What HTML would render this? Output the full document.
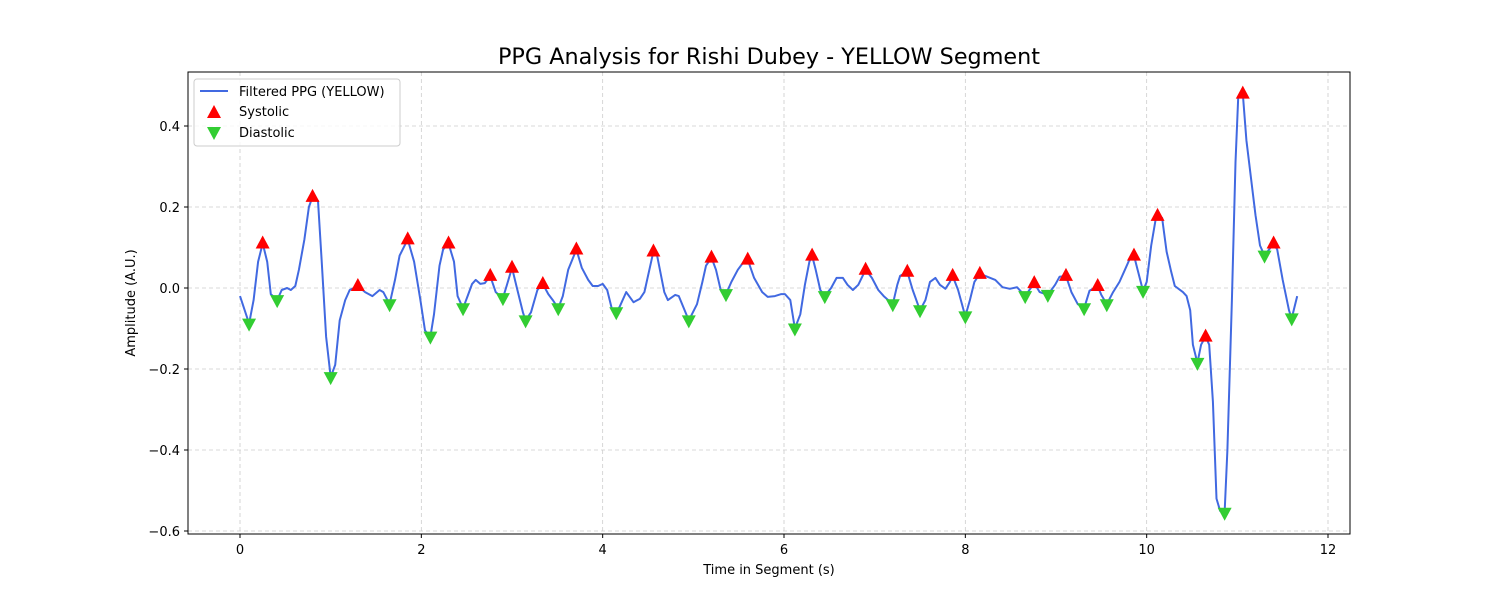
<!DOCTYPE html>
<html><head><meta charset="utf-8"><style>
body{margin:0;background:#fff;font-family:"Liberation Sans","DejaVu Sans",sans-serif}
svg text{font-family:"DejaVu Sans","Liberation Sans",sans-serif}
</style></head><body>
<svg id="chart" width="1500" height="600" viewBox="0 0 1500 600" xmlns="http://www.w3.org/2000/svg">
<rect width="1500" height="600" fill="#fff"/>
<text x="769" y="64" font-size="22.3" text-anchor="middle" fill="#000">PPG Analysis for Rishi Dubey - YELLOW Segment</text>
<g id="grid"></g>
<g id="ticks"></g>
<g id="plot"></g>
<rect x="188" y="72" width="1162" height="462" fill="none" stroke="#000" stroke-width="1"/>
<text x="769" y="574" font-size="13" text-anchor="middle">Time in Segment (s)</text>
<text transform="translate(135,303) rotate(-90)" font-size="13" text-anchor="middle">Amplitude (A.U.)</text>
<g>
<rect x="194" y="79" width="206" height="67" rx="3" fill="#fff" fill-opacity="0.8" stroke="#ccc"/>
<line x1="200" y1="91" x2="228" y2="91" stroke="#4169e1" stroke-width="2"/>
<text x="239" y="96" font-size="13">Filtered PPG (YELLOW)</text>
<polygon points="214,105 221,118 207,118" fill="red"/>
<text x="239" y="116" font-size="13">Systolic</text>
<polygon points="207,127 221,127 214,140" fill="#32cd32"/>
<text x="239" y="137" font-size="13">Diastolic</text>
</g>
</svg>
<script>
const lineT=[0,0.1,0.15,0.2,0.25,0.3,0.34,0.41,0.46,0.52,0.56,0.61,0.65,0.71,0.76,0.8,0.86,0.9,0.95,1.0,1.05,1.1,1.16,1.21,1.3,1.38,1.46,1.54,1.58,1.65,1.71,1.76,1.85,1.92,1.99,2.04,2.1,2.14,2.2,2.24,2.3,2.36,2.4,2.46,2.51,2.56,2.6,2.65,2.7,2.76,2.82,2.9,2.94,3.0,3.06,3.12,3.15,3.21,3.28,3.34,3.4,3.45,3.51,3.56,3.62,3.71,3.77,3.84,3.89,3.95,4.0,4.05,4.1,4.15,4.19,4.26,4.34,4.41,4.46,4.52,4.56,4.6,4.68,4.72,4.8,4.84,4.95,5.04,5.1,5.14,5.2,5.25,5.3,5.36,5.42,5.49,5.55,5.6,5.67,5.76,5.82,5.9,5.97,6.01,6.07,6.12,6.18,6.23,6.28,6.31,6.35,6.4,6.45,6.52,6.58,6.65,6.7,6.76,6.82,6.9,6.97,7.04,7.1,7.2,7.25,7.28,7.36,7.42,7.5,7.56,7.61,7.67,7.72,7.78,7.83,7.86,7.92,8.0,8.05,8.1,8.16,8.22,8.33,8.41,8.49,8.57,8.66,8.76,8.82,8.91,8.99,9.04,9.11,9.17,9.24,9.31,9.37,9.46,9.5,9.56,9.63,9.7,9.76,9.82,9.86,9.9,9.96,10.0,10.05,10.1,10.12,10.17,10.22,10.27,10.31,10.4,10.44,10.48,10.51,10.56,10.6,10.65,10.69,10.73,10.77,10.81,10.86,10.89,10.94,10.98,11.01,11.06,11.1,11.16,11.2,11.25,11.3,11.35,11.4,11.44,11.5,11.57,11.6,11.66];
const lineV=[-0.02,-0.088,-0.03,0.065,0.11,0.065,-0.015,-0.03,-0.005,0,-0.005,0.005,0.045,0.12,0.2,0.225,0.215,0.07,-0.12,-0.22,-0.19,-0.08,-0.03,-0.005,0.005,-0.01,-0.02,-0.005,-0.01,-0.04,0.02,0.08,0.12,0.065,-0.03,-0.105,-0.12,-0.065,0.055,0.095,0.11,0.065,-0.02,-0.05,-0.02,0.01,0.02,0.01,0.012,0.03,-0.01,-0.025,0.005,0.05,-0.005,-0.06,-0.08,-0.06,-0.005,0.01,-0.015,-0.03,-0.05,-0.02,0.045,0.095,0.05,0.02,0.005,0.005,0.01,-0.005,-0.05,-0.06,-0.045,-0.01,-0.035,-0.027,-0.01,0.05,0.09,0.08,-0.01,-0.03,-0.017,-0.02,-0.08,-0.04,0.015,0.055,0.075,0.045,-0.003,-0.015,0.015,0.045,0.063,0.07,0.025,-0.01,-0.022,-0.02,-0.015,-0.015,-0.03,-0.1,-0.065,0.008,0.065,0.08,0.045,-0.005,-0.02,0,0.025,0.025,0.008,-0.005,0.008,0.045,0.025,-0.005,-0.02,-0.04,0.008,0.03,0.04,-0.005,-0.055,-0.03,0.015,0.025,0.008,-0.002,0.015,0.03,-0.005,-0.07,-0.03,0.015,0.035,0.03,0.02,0.002,-0.002,0.002,-0.02,0.012,-0.01,-0.017,0.008,0.028,0.03,-0.01,-0.04,-0.05,-0.007,0.005,-0.017,-0.04,-0.01,0.015,0.045,0.075,0.08,0.045,-0.007,0.015,0.105,0.17,0.178,0.173,0.09,0.04,0.005,-0.01,-0.02,-0.055,-0.14,-0.185,-0.14,-0.12,-0.14,-0.28,-0.52,-0.55,-0.555,-0.4,-0.03,0.31,0.47,0.48,0.365,0.255,0.18,0.105,0.08,0.095,0.11,0.095,0.02,-0.055,-0.075,-0.02];
const sysT=[0.25,0.8,1.3,1.85,2.3,2.76,3.0,3.34,3.71,4.56,5.2,5.6,6.31,6.9,7.36,7.86,8.16,8.76,9.11,9.46,9.86,10.12,10.65,11.06,11.4];
const sysV=[0.11,0.225,0.005,0.12,0.11,0.03,0.05,0.01,0.095,0.09,0.075,0.07,0.08,0.045,0.04,0.03,0.035,0.012,0.03,0.005,0.08,0.178,-0.12,0.48,0.11];
const diaT=[0.1,0.41,1.0,1.65,2.1,2.46,2.9,3.15,3.51,4.15,4.95,5.36,6.12,6.45,7.2,7.5,8.0,8.66,8.91,9.31,9.56,9.96,10.56,10.86,11.3,11.6];
const diaV=[-0.088,-0.03,-0.22,-0.04,-0.12,-0.05,-0.025,-0.08,-0.05,-0.06,-0.08,-0.015,-0.1,-0.02,-0.04,-0.055,-0.07,-0.02,-0.017,-0.05,-0.04,-0.007,-0.185,-0.555,0.08,-0.075];
const xTicks=[0,2,4,6,8,10,12];
const yTicks=[0.4,0.2,0.0,-0.2,-0.4,-0.6];
const yTickLabels=["0.4","0.2","0.0","\u22120.2","\u22120.4","\u22120.6"];
const NS="http://www.w3.org/2000/svg";
const X=t=>240+t*90.667;
const Y=v=>288-v*405;
function mk(tag,attrs,parent){const e=document.createElementNS(NS,tag);for(const k in attrs)e.setAttribute(k,attrs[k]);parent.appendChild(e);return e;}
const grid=document.getElementById('grid'),ticks=document.getElementById('ticks'),plot=document.getElementById('plot');
xTicks.forEach(t=>{
 const g=mk('line',{x1:X(t),x2:X(t),y1:72,y2:534,stroke:'#ccc','stroke-dasharray':'4,3','stroke-width':0.8},grid);
 
 
 const tk=mk('line',{x1:X(t),x2:X(t),y1:534,y2:538,stroke:'#000'},ticks);
 
 
 const tx=mk('text',{x:X(t),y:554,'font-size':13,'text-anchor':'middle'},ticks);tx.textContent=String(t);
 
 
});
yTicks.forEach((v,i)=>{
 const g=mk('line',{x1:188,x2:1350,y1:Y(v),y2:Y(v),stroke:'#ccc','stroke-dasharray':'4,3','stroke-width':0.8},grid);
 
 
 const tk=mk('line',{x1:184,x2:188,y1:Y(v),y2:Y(v),stroke:'#000'},ticks);
 
 
 const tx=mk('text',{x:180,y:Y(v)+5,'font-size':13,'text-anchor':'end'},ticks);tx.textContent=yTickLabels[i];
 
 
});
const pl=mk('polyline',{points:lineT.map((t,i)=>X(t).toFixed(1)+','+Y(lineV[i]).toFixed(1)).join(' '),fill:'none',stroke:'#4169e1','stroke-width':2,'stroke-linejoin':'round'},plot);


sysT.forEach((t,i)=>{const x=X(t),y=Y(sysV[i]);
 const p=mk('polygon',{points:`${x},${y-8} ${x+7},${y+5} ${x-7},${y+5}`,fill:'red'},plot);
 
 
});
diaT.forEach((t,i)=>{const x=X(t),y=Y(diaV[i]);
 const p=mk('polygon',{points:`${x-7},${y-5} ${x+7},${y-5} ${x},${y+8}`,fill:'#32cd32'},plot);
 
 
});
</script>
</body></html>
